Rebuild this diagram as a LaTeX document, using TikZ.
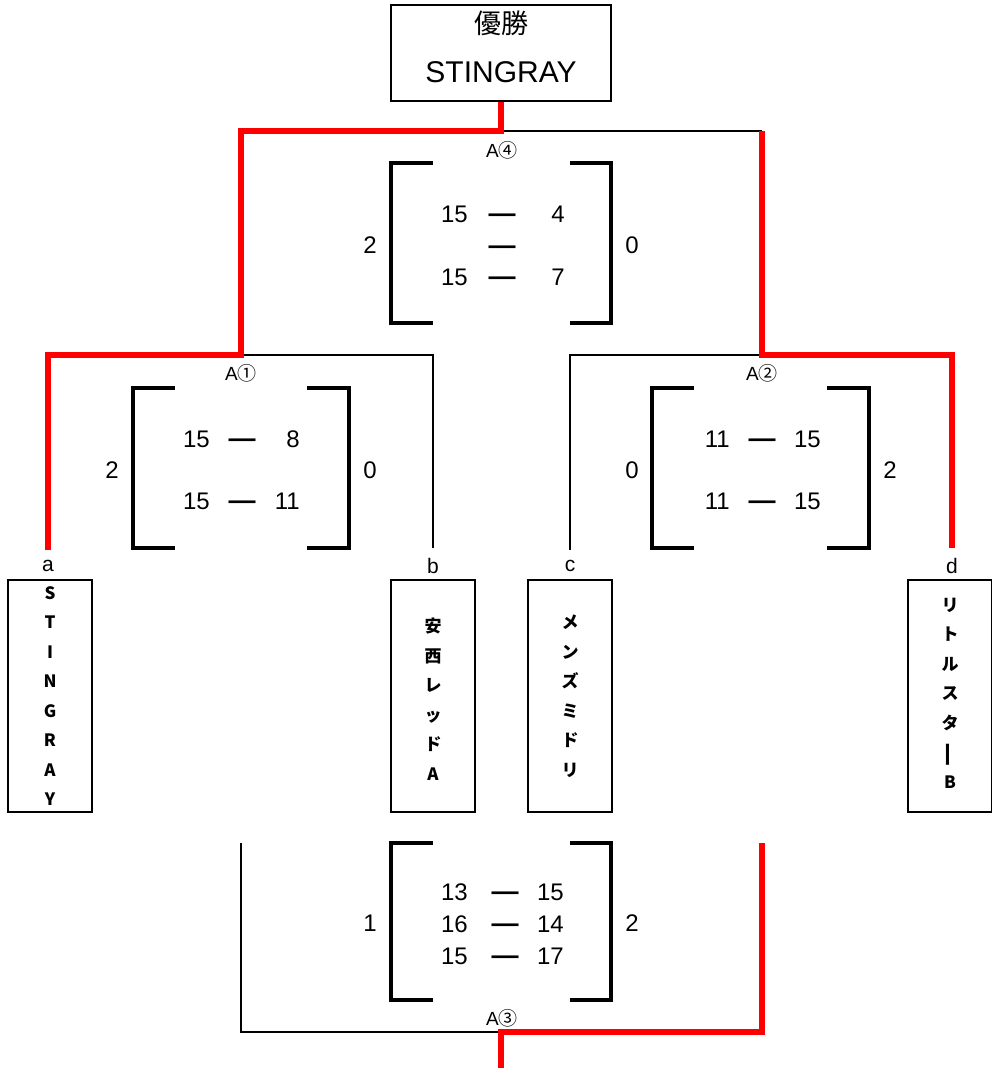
\documentclass[tikz,border=0pt]{standalone}
\usepackage{fontspec}
\setmainfont{Liberation Sans}
\newfontfamily\jp{Noto Sans CJK JP}
\tikzset{
  blkline/.style={line width=2pt},
  winline/.style={red, line width=6pt},
  brk/.style={line width=4.5pt},
  teambox/.style={draw, line width=2.5pt, minimum width=84pt, minimum height=232pt, inner sep=0pt},
  teamtxt/.style={align=center, inner sep=0pt, font=\jp\bfseries\fontsize{17}{29.5}\selectfont},
  lbl/.style={inner sep=0pt, font=\fontsize{21}{21}\selectfont},
  mlbl/.style={inner sep=0pt, font=\fontsize{19}{19}\selectfont},
  sc/.style={inner sep=0pt, font=\fontsize{24}{24}\selectfont},
  scl/.style={sc, anchor=base east},
  dashtxt/.style={inner sep=0pt, anchor=base, font=\bfseries\fontsize{27}{27}\selectfont}
}
\begin{document}
\begin{tikzpicture}[x=1pt,y=-1pt]
\useasboundingbox (0,0) rectangle (991,1068);
% champion box
\node[draw, line width=2.5pt, minimum width=220pt, minimum height=96pt, inner sep=0pt] (champ) at (501,53) {};
\node[inner sep=0pt, font=\jp\fontsize{27}{27}\selectfont] (champt) at (501,23) {優勝};
\node[inner sep=0pt, font=\fontsize{30}{30}\selectfont] (champn) at (501,72) {STINGRAY};
% team boxes
\node[teambox] (ta) at (50,696) {};
\node[teambox] (tb) at (433,696) {};
\node[teambox] (tc) at (570,696) {};
\node[teambox] (td) at (950,696) {};
\node[teamtxt] (tat) at (50,696) {S\\T\\I\\N\\G\\R\\A\\Y};
\node[teamtxt] (tbt) at (433,699) {安\\西\\レ\\ッ\\ド\\A};
\node[teamtxt] (tct) at (570,696) {メ\\ン\\ズ\\ミ\\ド\\リ};
\node[teamtxt] (tdt) at (950,693) {リ\\ト\\ル\\ス\\タ\\\rotatebox[origin=c]{90}{\scalebox{1.5}[1]{ー}}\\B};
% team letters
\node[lbl] (la) at (48,566) {a};
\node[lbl] (lb) at (433,566) {b};
\node[lbl] (lc) at (570,566) {c};
\node[lbl] (ld) at (952,566) {d};
% junctions
\coordinate (j4) at (501,131);
\coordinate (j4r) at (762,131);
\coordinate (j1) at (241,355);
\coordinate (j2) at (762,355);
\coordinate (b3l) at (241,843);
\coordinate (b3r) at (762,843);
\coordinate (j3) at (501,1032);
\coordinate (j3e) at (501,1068);
% connectors
\draw[blkline] (j4) -- (j4r);
\draw[blkline] (j1) -| ([yshift=10pt]lb.north);
\draw[blkline] (j2) -| ([yshift=10pt]lc.north);
\draw[blkline] (b3l) |- (j3);
\draw[winline] (champ.south) -- (j4) -| (j1) -| ([yshift=10pt]la.north);
\draw[winline] (j4r) -- (j2) -| ([yshift=10pt]ld.north);
\draw[winline] (b3r) |- (j3) -- (j3e);
% match labels
\node[mlbl] (m4) at (502,150) {A{\jp ④}};
\node[mlbl] (m1) at (241,373) {A{\jp ①}};
\node[mlbl] (m2) at (762,373) {A{\jp ②}};
\node[mlbl] (m3) at (502,1018) {A{\jp ③}};
% brackets
\draw[brk] (433,163) -- (391,163) -- (391,323) -- (433,323);
\draw[brk] (570,163) -- (611,163) -- (611,323) -- (570,323);
\draw[brk] (175,388) -- (133,388) -- (133,548) -- (175,548);
\draw[brk] (307,388) -- (349,388) -- (349,548) -- (307,548);
\draw[brk] (694,388) -- (652,388) -- (652,548) -- (694,548);
\draw[brk] (827,388) -- (869,388) -- (869,548) -- (827,548);
\draw[brk] (433,843) -- (391,843) -- (391,1000) -- (433,1000);
\draw[brk] (570,843) -- (611,843) -- (611,1000) -- (570,1000);
% scores A4
\node[sc] (s4a) at (370,245) {2};
\node[sc] (s4b) at (632,245) {0};
\node[scl] (s4l1) at (468,222) {15}; \node[dashtxt] (s4d1) at (502,222) {—}; \node[scl] (s4r1) at (565,222) {4};
\node[dashtxt] (s4d2) at (502,254) {—};
\node[scl] (s4l3) at (468,285) {15}; \node[dashtxt] (s4d3) at (502,285) {—}; \node[scl] (s4r3) at (565,285) {7};
% scores A1
\node[sc] (s1a) at (112,470) {2};
\node[sc] (s1b) at (370,470) {0};
\node[scl] (s1l1) at (210,447) {15}; \node[dashtxt] (s1d1) at (242,447) {—}; \node[scl] (s1r1) at (300,447) {8};
\node[scl] (s1l2) at (210,509) {15}; \node[dashtxt] (s1d2) at (242,509) {—}; \node[scl] (s1r2) at (300,509) {11};
% scores A2
\node[sc] (s2a) at (632,470) {0};
\node[sc] (s2b) at (890,470) {2};
\node[scl] (s2l1) at (730,447) {11}; \node[dashtxt] (s2d1) at (762,447) {—}; \node[scl] (s2r1) at (821,447) {15};
\node[scl] (s2l2) at (730,509) {11}; \node[dashtxt] (s2d2) at (762,509) {—}; \node[scl] (s2r2) at (821,509) {15};
% scores A3
\node[sc] (s3a) at (370,923) {1};
\node[sc] (s3b) at (632,923) {2};
\node[scl] (s3l1) at (468,900) {13}; \node[dashtxt] (s3d1) at (505,900) {—}; \node[scl] (s3r1) at (564,900) {15};
\node[scl] (s3l2) at (468,932) {16}; \node[dashtxt] (s3d2) at (505,932) {—}; \node[scl] (s3r2) at (564,932) {14};
\node[scl] (s3l3) at (468,964) {15}; \node[dashtxt] (s3d3) at (505,964) {—}; \node[scl] (s3r3) at (564,964) {17};
\end{tikzpicture}
\end{document}
